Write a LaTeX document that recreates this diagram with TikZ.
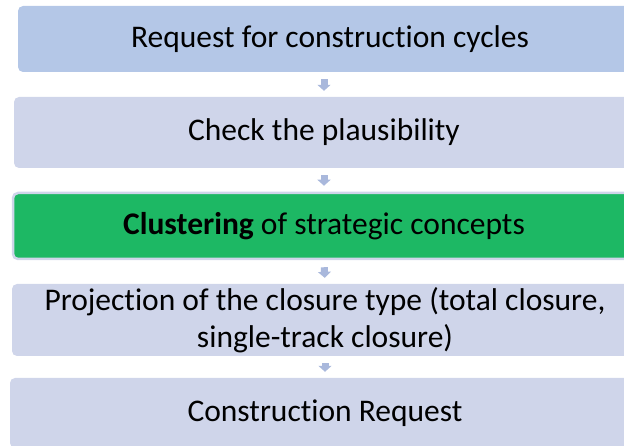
\documentclass[tikz,border=0pt]{standalone}
\usepackage{fontspec}
\setmainfont[Ligatures=NoCommon]{Carlito}
\usetikzlibrary{arrows.meta}
\definecolor{boxblue}{HTML}{B4C7E7}
\definecolor{boxlav}{HTML}{CFD5EA}
\definecolor{boxgreen}{HTML}{1DB864}
\definecolor{arrowc}{HTML}{A9B8DC}
\tikzset{
  stepbox/.style={rounded corners=5pt, fill=boxlav, draw=none, minimum width=#1, align=center, inner sep=0pt, font=\fontsize{31.5}{36.5}\selectfont},
  flowarrow/.style={draw=arrowc, line width=7pt, -{Triangle[width=13pt,length=6pt]}, shorten <=7pt, shorten >=6pt}
}
\begin{document}
\begin{tikzpicture}[x=1pt,y=1pt]
\useasboundingbox (0,0) rectangle (624,446);
\node[stepbox=624pt, fill=boxblue, minimum height=66pt] (b1) at (330,407) {Request for construction cycles};
\node[stepbox=620pt, minimum height=71pt] (b2) at (324,313.5) {Check the plausibility};
\node[stepbox=622pt, minimum height=66pt, fill=boxgreen, draw=boxlav, line width=2.5pt] (b3) at (324,220) {\textbf{Clustering} of strategic concepts};
\node[stepbox=626pt, minimum height=72pt] (b4) at (325,126) {Projection of the closure type (total closure,\\single-track closure)};
\node[stepbox=630pt, minimum height=70pt] (b5) at (325,33) {Construction Request};
\draw[flowarrow] (b1.south -| b2.north) -- (b2.north);
\draw[flowarrow] (b2.south) -- (b3.north);
\draw[flowarrow] (b3.south) -- (b4.north);
\draw[flowarrow] (b4.south) -- (b5.north);
\end{tikzpicture}
\end{document}
